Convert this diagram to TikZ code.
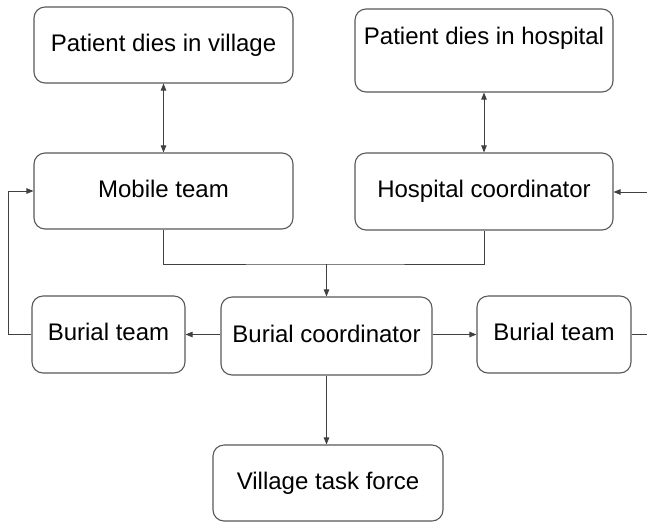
\documentclass[tikz,border=0pt]{standalone}
\usepackage{fontspec}
\setmainfont{Liberation Sans}
\usetikzlibrary{arrows.meta}
\begin{document}
\begin{tikzpicture}[x=1pt,y=-1pt,
  box/.style={draw=black!65,line width=1.1pt,rounded corners=11pt,
    font=\fontsize{24}{28}\selectfont,text height=17.2pt,text depth=5pt,
    inner sep=0pt,fill=white},
  txt/.style={font=\fontsize{24}{28}\selectfont,inner sep=0pt},
  conn/.style={draw=black!75,line width=0.8pt},
  arr/.style={conn,-{Triangle[length=7pt,width=5.5pt]}},
  darr/.style={conn,{Triangle[length=7pt,width=5.5pt]}-{Triangle[length=7pt,width=5.5pt]}}]
\useasboundingbox[fill=white] (0,0) rectangle (647,523);
\node[box,minimum width=259pt,minimum height=76pt] (pdv) at (163.5,45) {Patient dies in village};
\node[box,minimum width=258pt,minimum height=83pt] (pdh) at (484,50.5) {};
\node[txt] (pdht) at ([yshift=12pt]pdh.center) {Patient dies in hospital};
\node[box,minimum width=259pt,minimum height=76pt] (mob) at (163.5,191) {Mobile team};
\node[box,minimum width=258pt,minimum height=77pt] (hc) at (484,191.5) {Hospital coordinator};
\node[box,minimum width=211pt,minimum height=78pt] (bc) at (326.5,336) {Burial coordinator};
\node[box,minimum width=153pt,minimum height=77pt] (bt1) at (108.5,334.5) {Burial team};
\node[box,minimum width=154pt,minimum height=77pt] (bt2) at (554,334.5) {Burial team};
\node[box,minimum width=230pt,minimum height=76pt] (vtf) at (328,483) {Village task force};
\coordinate (j) at (326.5,264);
\coordinate (lx) at (8,334.5);
\coordinate (re) at (647,334.5);
\coordinate (rin) at (647,192);
\draw[darr] (pdv.south) -- (mob.north);
\draw[darr] (pdh.south) -- (hc.north);
\draw[conn] (mob.south) |- (j) -| (hc.south);
\draw[arr] (j) -- (bc.north);
\draw[arr] (bt1.east -| bc.west) -- (bt1.east);
\draw[arr] (bt2.west -| bc.east) -- (bt2.west);
\draw[arr] (bt1.west) -- (lx) |- (mob.west);
\draw[conn] (bt2.east) -- (re);
\draw[arr] (rin) -- (rin -| hc.east);
\draw[arr] (bc.south) -- (bc.south |- vtf.north);
\end{tikzpicture}
\end{document}
